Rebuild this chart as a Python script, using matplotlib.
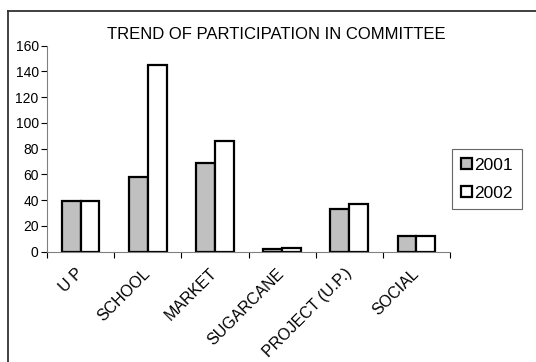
import numpy as np
import matplotlib.pyplot as plt
from matplotlib.lines import Line2D

plt.rcParams['font.family'] = ['Liberation Sans', 'DejaVu Sans']

categories = ['U P', 'SCHOOL', 'MARKET', 'SUGARCANE', 'PROJECT (U.P.)', 'SOCIAL']
y2001 = [39, 58, 69, 2, 33, 12]
y2002 = [39, 145, 86, 3, 37, 12]
yticks = [0, 20, 40, 60, 80, 100, 120, 140, 160]

fig = plt.figure(figsize=(5.36, 3.62), dpi=100)
ax = fig.add_axes([0.0877, 0.3047, 0.7519, 0.5691])

x = np.arange(len(categories))
w = 0.28
ax.bar(x - w / 2, y2001, w, color='#c0c0c0', edgecolor='black', linewidth=1.6, label='2001')
ax.bar(x + w / 2, y2002, w, color='white', edgecolor='black', linewidth=1.6, label='2002')

ax.set_xlim(-0.5, len(categories) - 0.5)
ax.set_ylim(0, 160)
ax.set_yticks(yticks)
ax.set_xticks(np.arange(len(categories) + 1) - 0.5)
ax.set_xticklabels([])
ax.tick_params(axis='y', labelsize=10, length=4, width=0.8, pad=2)
ax.tick_params(axis='x', length=4, width=0.8)
# category names, slanted under each group
for i, c in enumerate(categories):
    ax.text(i - 0.08, -11, c, rotation=45, ha='right', va='top', rotation_mode='anchor', fontsize=11.5)

ax.spines['top'].set_visible(False)
ax.spines['right'].set_visible(False)
ax.spines['left'].set_color('#808080')
ax.spines['bottom'].set_color('#808080')

fig.text(0.515, 0.905, 'TREND OF PARTICIPATION IN COMMITTEE', ha='center', va='center', fontsize=12)

leg = ax.legend(loc='upper left', bbox_to_anchor=(452 / 536, 1 - 149 / 362), bbox_transform=fig.transFigure,
                fontsize=12.5, frameon=True, fancybox=False, edgecolor='#404040',
                handlelength=0.65, handleheight=0.65, handletextpad=0.15, borderpad=0.5,
                labelspacing=0.75, borderaxespad=0)
leg.get_frame().set_linewidth(0.8)
for h in leg.legend_handles:
    h.set_linewidth(1.6)

# frame lines along top and left
fig.add_artist(Line2D([8 / 536, 1], [1 - 11 / 362] * 2, transform=fig.transFigure, color='#303030', lw=1.3))
fig.add_artist(Line2D([8 / 536] * 2, [0, 1 - 11 / 362], transform=fig.transFigure, color='#303030', lw=1.3))

fig.savefig('out.png', dpi=100)
